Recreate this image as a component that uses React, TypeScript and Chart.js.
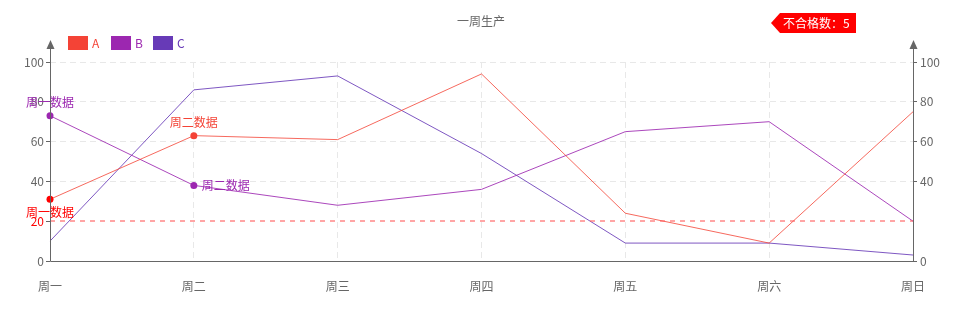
import React, { useEffect, useRef } from "react";
import { Chart, registerables } from "chart.js";

Chart.register(...registerables);

const categories = ["周一", "周二", "周三", "周四", "周五", "周六", "周日"];
const seriesNames = ["A", "B", "C"];
const seriesColors = ["#f44336", "#9c27b0", "#673ab7"];
const seriesA = [31, 63, 61, 94, 24, 9, 75];
const seriesB = [73, 38, 28, 36, 65, 70, 20];
const seriesC = [10, 86, 93, 54, 9, 9, 3];
const yTicks = [0, 20, 40, 60, 80, 100];
const markLineValue = 20;
const titleText = "一周生产";
const badgeText = "不合格数：5";
const pointLabels = [
  { series: 0, index: 0, text: "周一数据", color: "#ff0000", pos: "below" },
  { series: 0, index: 1, text: "周二数据", color: "#f44336", pos: "above" },
  { series: 1, index: 0, text: "周一数据", color: "#9c27b0", pos: "above" },
  { series: 1, index: 1, text: "周二数据", color: "#9c27b0", pos: "right" },
];

const FONT = "'Noto Sans CJK SC', 'Noto Sans', sans-serif";

const overlay = {
  id: "overlay",
  afterDatasetsDraw(chart: any) {
    const { ctx, chartArea } = chart;
    const y = chart.scales.y;
    const my = Math.round(y.getPixelForValue(markLineValue));
    ctx.save();
    ctx.strokeStyle = "#ff5c5c";
    ctx.lineWidth = 1.1;
    ctx.setLineDash([5, 5]);
    ctx.beginPath();
    ctx.moveTo(chartArea.left, my);
    ctx.lineTo(chartArea.right, my);
    ctx.stroke();
    ctx.restore();
  },
  afterDraw(chart: any) {
    const { ctx, chartArea } = chart;
    const L = Math.round(chartArea.left) + 0.5;
    const R = Math.round(chartArea.right) + 0.5;
    const B = Math.round(chartArea.bottom) + 0.5;
    const topY = chartArea.top - 14;
    ctx.save();
    ctx.strokeStyle = "#666";
    ctx.lineWidth = 1;
    ctx.setLineDash([]);
    ctx.beginPath();
    ctx.moveTo(L, B);
    ctx.lineTo(L, topY);
    ctx.moveTo(R, B);
    ctx.lineTo(R, topY);
    ctx.moveTo(L, B);
    ctx.lineTo(R, B);
    ctx.stroke();
    ctx.fillStyle = "#666";
    [L, R].forEach((x) => {
      ctx.beginPath();
      ctx.moveTo(x, topY - 8);
      ctx.lineTo(x - 4, topY + 1);
      ctx.lineTo(x + 4, topY + 1);
      ctx.closePath();
      ctx.fill();
    });

    // title
    ctx.font = `12px ${FONT}`;
    ctx.fillStyle = "#666";
    ctx.textAlign = "center";
    ctx.textBaseline = "middle";
    ctx.fillText(titleText, 481, 21);

    // legend
    const legendX = [68, 111, 153];
    seriesNames.forEach((name, i) => {
      ctx.fillStyle = seriesColors[i];
      ctx.fillRect(legendX[i], 36, 20, 14);
      ctx.textAlign = "left";
      ctx.fillText(name, legendX[i] + 24, 43);
    });

    // badge
    ctx.fillStyle = "#ff0000";
    ctx.beginPath();
    ctx.moveTo(771, 23);
    ctx.lineTo(780, 13);
    ctx.lineTo(856, 13);
    ctx.lineTo(856, 33);
    ctx.lineTo(780, 33);
    ctx.closePath();
    ctx.fill();
    ctx.fillStyle = "#fff";
    ctx.textAlign = "left";
    ctx.fillText(badgeText, 783, 23);

    // point labels
    pointLabels.forEach((p) => {
      const el = chart.getDatasetMeta(p.series).data[p.index];
      ctx.fillStyle = p.color;
      ctx.textBaseline = "middle";
      if (p.pos === "right") {
        ctx.textAlign = "left";
        ctx.fillText(p.text, el.x + 8, el.y);
      } else {
        ctx.textAlign = "center";
        ctx.fillText(p.text, el.x, p.pos === "above" ? el.y - 13 : el.y + 13);
      }
    });
    ctx.restore();
  },
};

export default function App() {
  const ref = useRef<HTMLCanvasElement>(null);
  useEffect(() => {
    const canvas = ref.current!;
    const chart = new Chart(canvas, {
      type: "line",
      data: {
        labels: categories,
        datasets: [
          {
            label: "A",
            data: seriesA,
            borderColor: "rgba(244,67,54,0.8)",
            backgroundColor: "#ff0000",
            borderWidth: 1,
            pointRadius: [3.5, 3.5, 0, 0, 0, 0, 0],
            pointBackgroundColor: ["#ff0000", "#f44336", "#f44336", "#f44336", "#f44336", "#f44336", "#f44336"],
            pointBorderColor: ["#ff0000", "#f44336", "#f44336", "#f44336", "#f44336", "#f44336", "#f44336"],
            pointBorderWidth: 0,
            tension: 0,
          },
          {
            label: "B",
            data: seriesB,
            borderColor: "rgba(156,39,176,0.85)",
            backgroundColor: "#9c27b0",
            borderWidth: 1,
            pointRadius: [3.5, 3.5, 0, 0, 0, 0, 0],
            pointBackgroundColor: "#9c27b0",
            pointBorderColor: "#9c27b0",
            pointBorderWidth: 0,
            tension: 0,
          },
          {
            label: "C",
            data: seriesC,
            borderColor: "rgba(103,58,183,0.85)",
            backgroundColor: "#673ab7",
            borderWidth: 1,
            pointRadius: 0,
            tension: 0,
          },
        ],
      },
      options: {
        responsive: false,
        animation: false,
        devicePixelRatio: 1,
        layout: { padding: { top: 62, left: 0, right: 0, bottom: 0 } },
        plugins: { legend: { display: false }, title: { display: false }, tooltip: { enabled: false } },
        scales: {
          x: {
            type: "category",
            offset: false,
            border: { display: false, dash: [6, 4] },
            grid: {
              color: (c: any) => (c.index === 0 || c.index === categories.length - 1 ? "rgba(0,0,0,0)" : "#e8e8e8"),
              drawTicks: false,
            },
            ticks: { color: "#666", font: { size: 12, family: FONT }, padding: 18, maxRotation: 0, autoSkip: false },
            afterFit: (s: any) => { s.height = 50; },
          },
          y: {
            position: "left",
            min: 0,
            max: 100,
            afterBuildTicks: (s: any) => { s.ticks = yTicks.map((v) => ({ value: v })); },
            border: { display: false, dash: [6, 4] },
            grid: {
              color: (c: any) => (c.tick && (c.tick.value === 0 || c.tick.value === markLineValue) ? "rgba(0,0,0,0)" : "#e8e8e8"),
              tickColor: "#666",
              tickLength: 4,
            },
            ticks: {
              color: (c: any) => (c.tick && c.tick.value === markLineValue ? "#ff0000" : "#666"),
              font: { size: 12, family: FONT },
              padding: 2,
            },
            afterFit: (s: any) => { s.width = 50; },
          },
          y2: {
            position: "right",
            min: 0,
            max: 100,
            afterBuildTicks: (s: any) => { s.ticks = yTicks.filter((v) => v !== markLineValue).map((v) => ({ value: v })); },
            border: { display: false },
            grid: { drawOnChartArea: false, tickColor: "#666", tickLength: 4 },
            ticks: { color: "#666", font: { size: 12, family: FONT }, padding: 3 },
            afterFit: (s: any) => { s.width = 50; },
          },
        },
      },
      plugins: [overlay],
    } as any);
    return () => chart.destroy();
  }, []);
  return (
    <div style={{ position: "absolute", left: 0, top: 0, width: 963, height: 311 }}>
      <canvas ref={ref} width={963} height={311} style={{ width: 963, height: 311, display: "block" }} />
    </div>
  );
}
